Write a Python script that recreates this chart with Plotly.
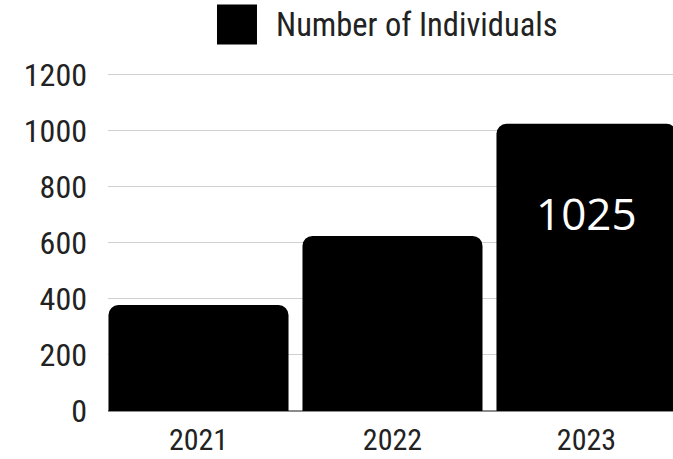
import plotly.graph_objects as go

years = ["2021", "2022", "2023"]
individuals = [378, 625, 1025]
series_name = "Number of Individuals"
y_ticks = [0, 200, 400, 600, 800, 1000, 1200]

NARROW = "Liberation Sans Narrow, Roboto Condensed, DejaVu Sans Condensed, sans-serif"

fig = go.Figure()
fig.add_trace(go.Bar(
    x=years, y=individuals, name=series_name,
    marker=dict(color="#000000", line=dict(width=0)),
    showlegend=False, hoverinfo="x+y",
))

# value label inside the last bar (category index used for the category axis)
last = len(years) - 1
fig.add_annotation(
    x=last, y=individuals[last] * 0.69, xref="x", yref="y",
    text=str(individuals[last]), showarrow=False,
    font=dict(family="Open Sans, sans-serif", size=44, color="#ffffff"),
    xanchor="center", yanchor="middle",
)

# custom legend (large swatch + label)
fig.add_shape(type="rect", xref="paper", yref="paper",
              x0=0.1929, x1=0.2637, y0=1.081, y1=1.199,
              fillcolor="#000000", line=dict(width=0))
fig.add_annotation(
    x=0.294, y=1.14, xref="paper", yref="paper",
    text=series_name, showarrow=False, xanchor="left", yanchor="middle",
    font=dict(family=NARROW, size=32.5, color="#222222"),
)

fig.update_layout(
    width=673, height=459,
    margin=dict(l=108, r=0, t=72, b=48, autoexpand=False),
    paper_bgcolor="#ffffff", plot_bgcolor="#ffffff",
    bargap=0.072, barcornerradius=10,
    font=dict(family=NARROW, color="#222222"),
)
fig.update_xaxes(
    type="category", range=[-0.4665, 2.446], automargin=False,
    showgrid=False, showline=False, ticks="",
    tickfont=dict(family=NARROW, size=30, color="#222222"),
    ticklabelstandoff=8,
)
fig.update_yaxes(
    range=[0, 1210], automargin=False,
    tickvals=y_ticks, ticktext=[str(v) for v in y_ticks],
    showgrid=True, gridcolor="#d0d0d0", gridwidth=1,
    zeroline=True, zerolinecolor="#8c8c8c", zerolinewidth=1.5,
    showline=False, ticks="",
    tickfont=dict(family=NARROW, size=32, color="#222222"),
    ticklabelstandoff=20,
)

fig.write_html("out.html")
